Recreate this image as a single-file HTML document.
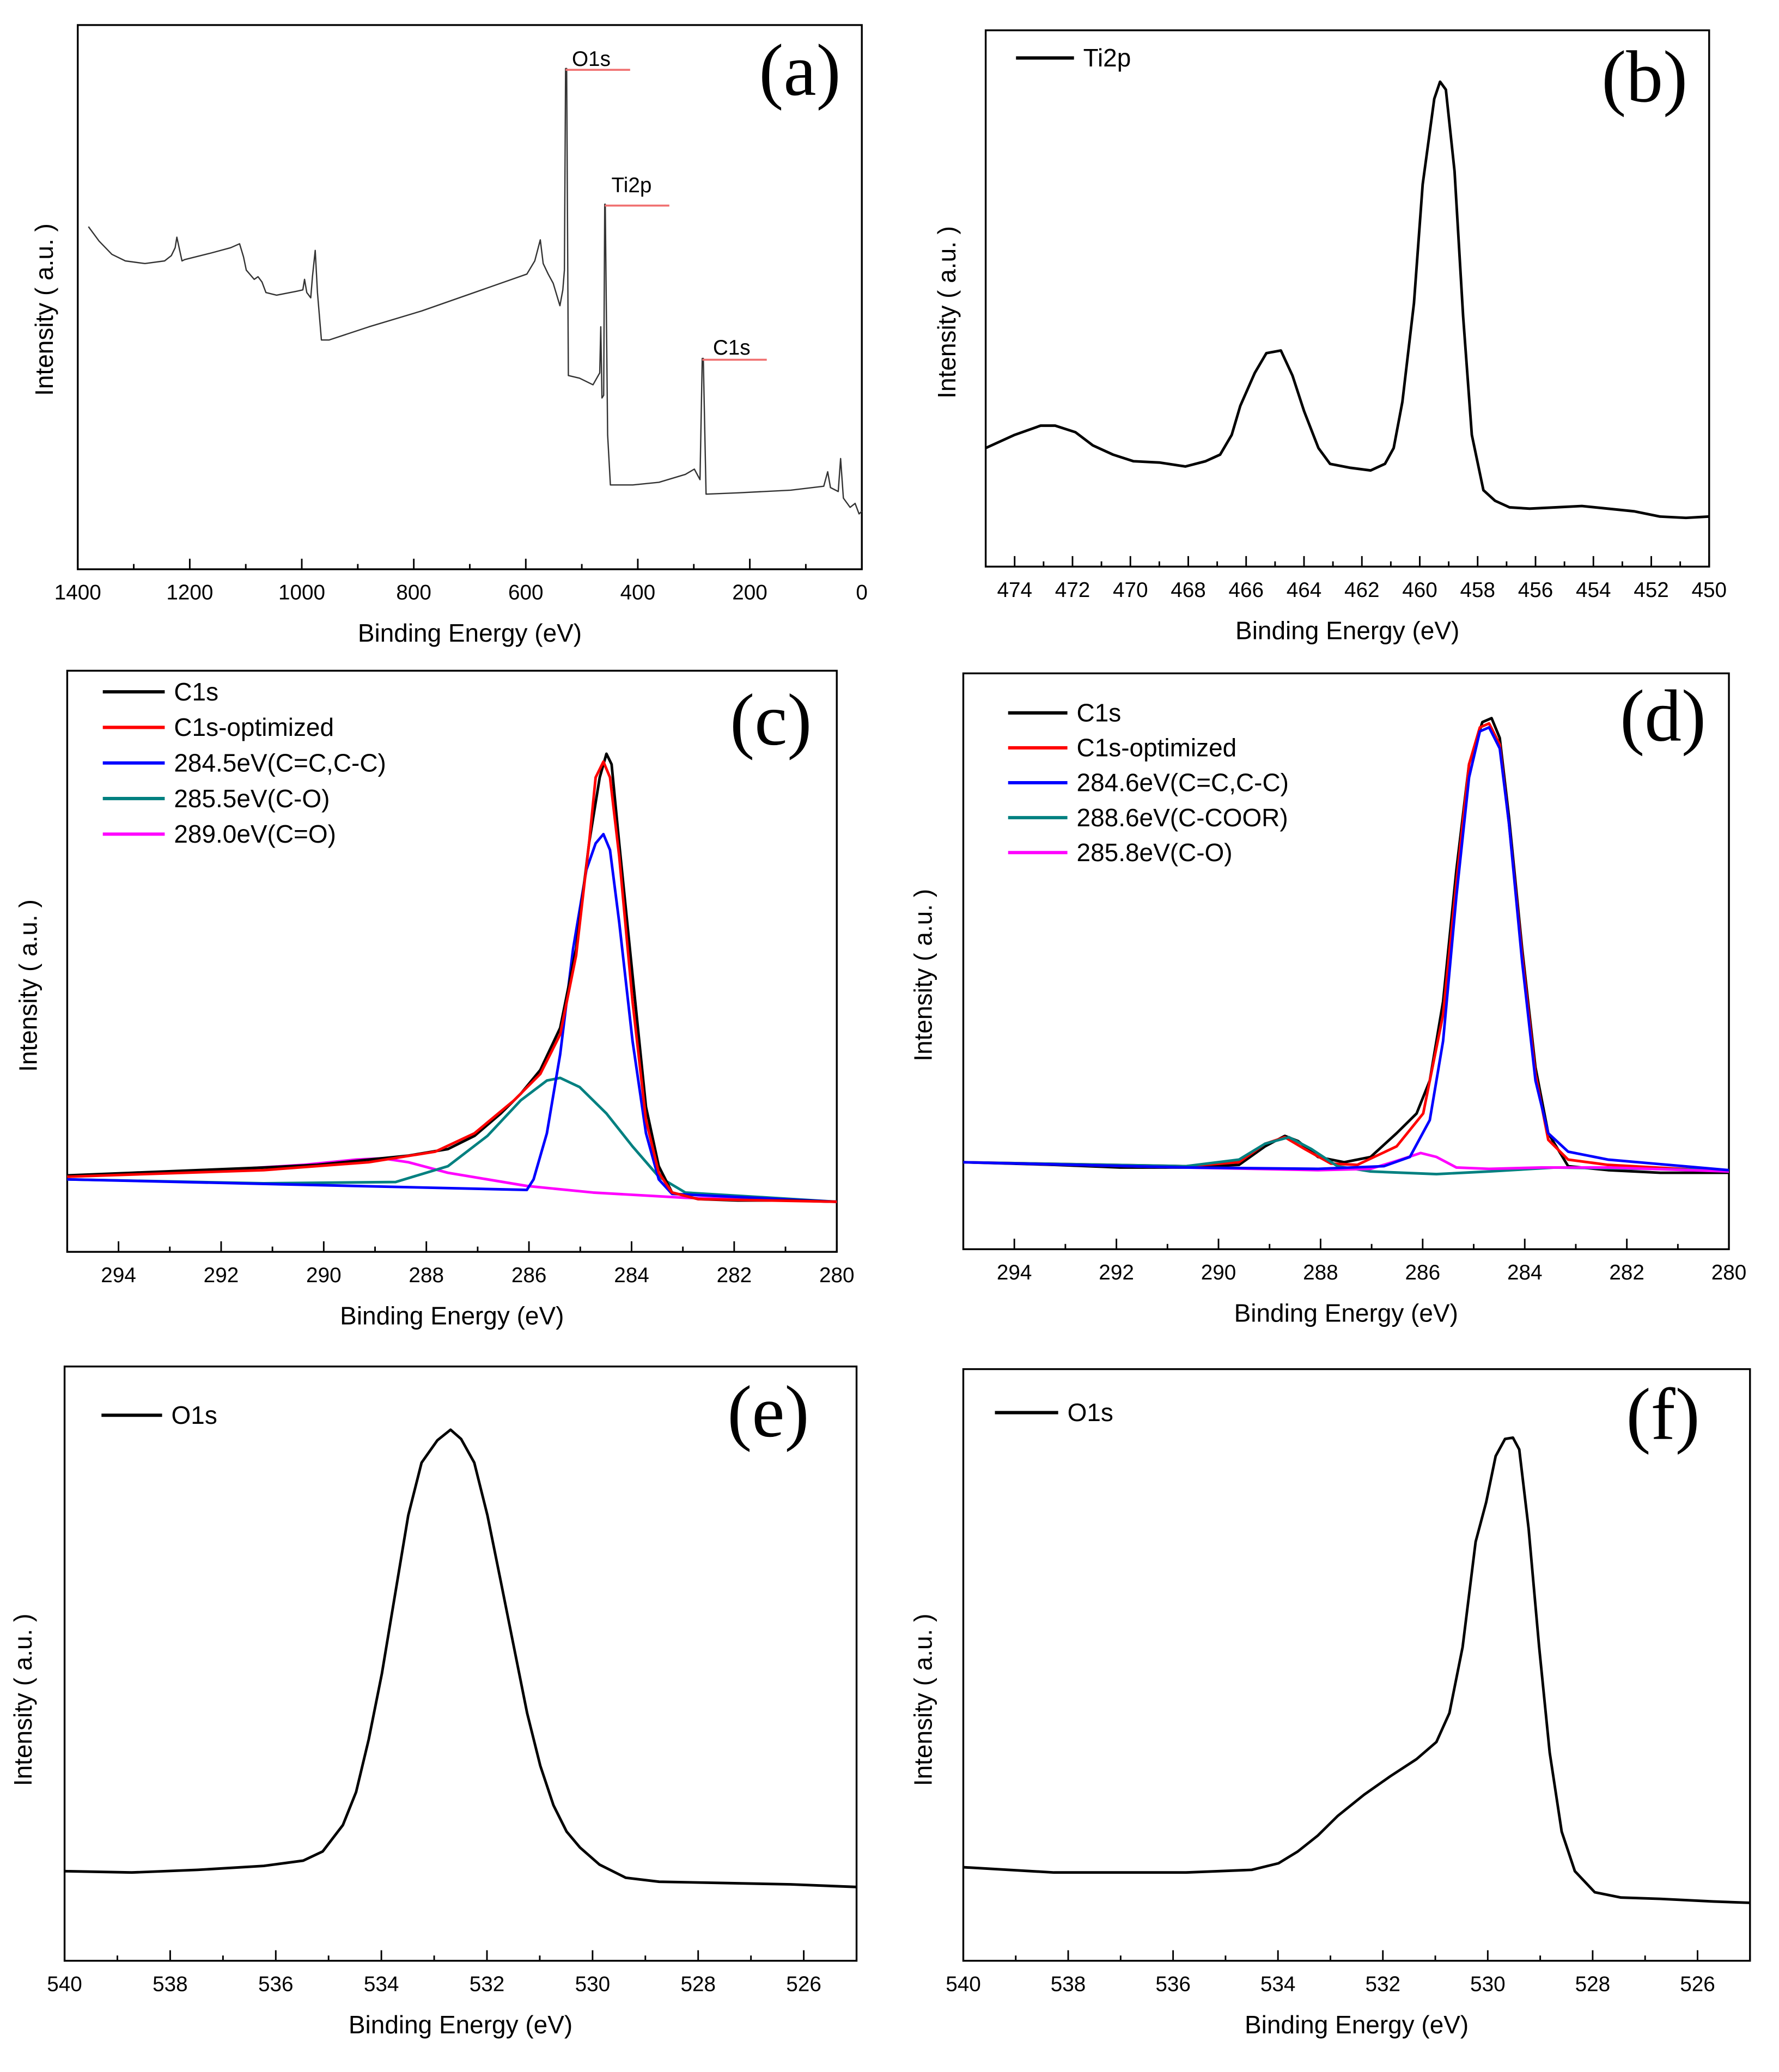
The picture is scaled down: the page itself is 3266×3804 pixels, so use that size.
<!DOCTYPE html>
<html><head><meta charset="utf-8"><style>
html,body{margin:0;padding:0;background:#fff;}
svg{display:block;}
text{font-family:"Liberation Sans",sans-serif;fill:#000;}
</style></head><body>
<svg id="fig" width="3266" height="3804" viewBox="0 0 1350 1572.4" xmlns="http://www.w3.org/2000/svg">
<rect x="0" y="0" width="1350" height="1572.4" fill="#fff"/>
</svg>
<script>
// ---------- data (binding energy eV, intensity a.u.) ----------
const surveyE=[1381,1362,1339,1315,1280,1245,1233,1226,1223,1214,1209,1162,1127,1111,1104,1099,1085,1078,1071,1064,1045,1009,998,995,991,984,981,976,972,965,951,880,786,692,598,584,579,574,569,560,551,539,534,531,529,527,524,504,480,468,466,464,461,459,458,454,449,409,362,315,299,289,285,283,278,221,127,68,61,56,42,38,33,21,12,5,0];
const surveyI=[260,249,239,234,232,234,238,244,252,234,235,240,244,247,237,227,220,222,218,210,208,211,212,220,210,206,222,242,210,174,174,184,196,210,224,234,242,250,232,224,217,200,212,227,380,380,147,145,140,149,184,130,132,277,277,102,64,64,66,72,76,68,160,160,57,58,60,63,74,62,59,84,54,47,50,42,44];
const tiE=[475,474.0,473.1,472.6,471.9,471.3,470.6,469.9,469.0,468.1,467.4,466.9,466.5,466.2,465.7,465.3,464.8,464.4,464.0,463.5,463.1,462.4,461.7,461.2,460.9,460.6,460.2,459.9,459.5,459.3,459.1,458.8,458.5,458.2,457.8,457.4,456.9,456.2,455.3,454.4,453.5,452.6,451.7,450.8,450.0];
const tiI=[90,100,107,107,102,92,85,80,79,76,80,85,100,122,147,162,164,145,118,90,78,75,73,78,90,125,200,290,355,368,362,300,190,100,58,50,45,44,45,46,44,42,38,37,38];
// panel c
const cBlackE=[295,293.74,292.46,291.17,290.15,289.12,288.35,287.58,287.06,286.55,286.16,285.78,285.39,285.08,284.83,284.62,284.49,284.39,284.24,283.98,283.72,283.47,283.21,282.70,281.93,280.90,280.0];
const cBlackI=[58,60,62,64,66,70,73,78,88,105,120,138,170,230,310,360,378,370,310,210,110,65,45,40,39,39,38];
const cFitE=[295,291.17,289.12,287.83,287.06,286.29,285.78,285.39,285.08,284.83,284.70,284.55,284.42,284.24,283.98,283.72,283.47,283.21,282.70,280.0];
const cFitI=[57,62,68,76,90,115,135,165,225,310,360,372,360,300,190,100,60,45,40,38];
const cP1E=[295,286.04,285.91,285.65,285.39,285.14,284.88,284.70,284.55,284.42,284.24,283.98,283.72,283.47,283.21,280.0];
const cP1I=[55,47,55,90,150,230,290,310,317,305,250,160,90,55,44,38];
const cP2E=[295,291.17,288.60,287.58,286.81,286.16,285.65,285.39,285.01,284.49,283.98,283.47,282.95,280.0];
const cP2I=[55,52,53,65,88,115,130,132,125,105,80,57,45,38];
const cP3E=[295,292.46,290.40,289.37,288.86,288.35,287.58,286.04,284.75,282.95,280.0];
const cP3I=[57,61,66,70,71,68,60,50,45,41,38];
// panel d
const dBlackE=[295,293.22,291.93,290.64,289.60,289.09,288.70,288.44,288.05,287.54,287.02,286.51,286.12,285.86,285.60,285.34,285.09,284.83,284.65,284.49,284.31,284.05,283.79,283.54,283.15,282.37,281.34,280.0];
const dBlackI=[66,64,62,62,64,78,86,82,70,66,70,88,103,128,188,288,368,400,403,388,328,228,138,88,63,60,58,58];
const dFitE=[295,290.64,289.60,289.09,288.70,288.31,287.80,287.28,286.51,285.99,285.60,285.34,285.09,284.88,284.70,284.49,284.31,284.05,283.79,283.54,283.15,282.37,280.0];
const dFitI=[66,63,66,80,85,76,65,64,78,103,178,278,368,396,399,383,323,223,133,83,68,64,59];
const dP1E=[295,290.64,288.05,286.76,286.25,285.86,285.60,285.34,285.09,284.88,284.70,284.49,284.31,284.05,283.79,283.54,283.15,282.37,280.0];
const dP1I=[66,62,61,63,70,98,158,268,358,393,396,380,323,218,128,88,74,68,60];
const dP2E=[295,290.64,289.60,289.09,288.62,288.18,287.67,287.02,285.73,284.70,283.41,280.0];
const dP2I=[66,63,68,80,85,76,63,59,57,59,62,60];
const dP3E=[295,290.64,288.05,287.02,286.51,286.04,285.73,285.34,284.70,283.67,282.37,280.0];
const dP3I=[66,62,60,61,67,73,70,62,61,62,62,59];
// panel e, f
const eE=[540,538.73,537.48,536.23,535.48,535.11,534.73,534.48,534.24,533.99,533.74,533.49,533.24,532.94,532.69,532.49,532.24,531.99,531.74,531.49,531.24,530.99,530.74,530.49,530.24,529.87,529.37,528.74,527.50,526.25,525.0];
const eI=[68,67,69,72,76,83,103,128,168,218,278,338,378,395,403,396,378,338,288,238,188,148,118,98,86,73,63,60,59,58,56];
const fE=[540,538.27,535.75,534.50,533.99,533.62,533.24,532.86,532.36,531.86,531.36,530.98,530.73,530.48,530.23,530.03,529.85,529.67,529.52,529.40,529.22,529.02,528.82,528.59,528.34,527.96,527.46,526.71,525.70,525.0];
const fI=[71,67,67,69,74,83,95,110,126,140,153,166,188,238,318,348,383,396,397,388,328,238,158,98,68,52,48,47,45,44];

const NS="http://www.w3.org/2000/svg";
const svg=document.getElementById('fig');
function mk(tag,attrs,parent){const e=document.createElementNS(NS,tag);for(const k in attrs)e.setAttribute(k,attrs[k]);(parent||svg).appendChild(e);return e;}

function panel(p){
  const g=mk('g',{});
  
  
  const sx=v=>p.L+(p.xmax-v)/(p.xmax-p.xmin)*(p.R-p.L);
  const sy=v=>p.B-v/p.ymax*(p.B-p.T);
  const fr=mk('rect',{x:p.L,y:p.T,width:p.R-p.L,height:p.B-p.T,fill:'none',stroke:'#000','stroke-width':1.4},g);
  
  
  for(let v=p.xmin;v<=p.xmax+1e-9;v+=p.minor){
    const major=Math.abs((v-p.tick0)/p.major-Math.round((v-p.tick0)/p.major))<1e-6;
    const x=sx(v);
    if(x<p.L-0.5||x>p.R+0.5)continue;
    const t=mk('line',{x1:x,x2:x,y1:p.B,y2:p.B-(major?8:4),stroke:'#000','stroke-width':1.2},g);
    
    
    if(major){
      const lb=mk('text',{x:x,y:p.B+23,'font-size':16,'text-anchor':'middle'},g);
      lb.textContent=String(Math.round(v));
      
      
    }
  }
  const xt=mk('text',{x:(p.L+p.R)/2,y:p.B+55,'font-size':19,'text-anchor':'middle'},g);
  xt.textContent='Binding Energy (eV)';
  
  
  const yc=p.yt[1];
  const yt=mk('text',{x:p.yt[0],y:yc,'font-size':19,'text-anchor':'middle',transform:`rotate(-90 ${p.yt[0]} ${yc})`},g);
  yt.textContent='Intensity ( a.u. )';
  
  
  const pl=mk('text',{x:p.lab[0],y:p.lab[1]+17,'font-size':56,'text-anchor':'middle',style:'font-family:"Liberation Serif",serif'},g);
  pl.textContent=p.label;
  
  
  p.series.forEach(s=>{
    const d=s.E.map((e,i)=>(i?'L':'M')+sx(e).toFixed(1)+' '+sy(s.I[i]).toFixed(1)).join('');
    const path=mk('path',{d:d,fill:'none',stroke:s.c,'stroke-width':s.w||2,'stroke-linejoin':'round'},g);
    
    
  });
  (p.legend||[]).forEach((l,i)=>{
    const y=p.leg[2]+i*p.leg[3];
    const ln=mk('line',{x1:p.leg[0],x2:p.leg[1],y1:y,y2:y,stroke:l.c,'stroke-width':2.5},g);
    
    
    const tx=mk('text',{x:p.leg[1]+7,y:y+6.5,'font-size':19},g);
    tx.textContent=l.t;
    
    
  });
  return {g,sx,sy};
}

const A=panel({name:'panel-a-survey',L:59,R:654,T:19,B:432,xmin:0,xmax:1400,ymax:413,minor:100,major:200,tick0:0,
  yt:[40,235],lab:[607,55],label:'(a)',series:[{E:surveyE,I:surveyI,c:'#333',w:1,n:'survey-spectrum'}]});
[['O1s',529,380,434,50],['Ti2p',459,277,464,146],['C1s',285,160,541,269]].forEach(a=>{
  const x=A.sx(a[1]),y=A.sy(a[2]);
  const l=mk('line',{x1:x,x2:x+49,y1:y+1,y2:y+1,stroke:'#f07070','stroke-width':1.5},A.g);
  
  
  const t=mk('text',{x:a[3],y:a[4],'font-size':16},A.g);
  t.textContent=a[0];
  
  
});
panel({name:'panel-b-ti2p',L:748,R:1297,T:23,B:430,xmin:450,xmax:475,ymax:407,minor:1,major:2,tick0:450,
  yt:[725,237],lab:[1248,60],label:'(b)',series:[{E:tiE,I:tiI,c:'#000',n:'ti2p-spectrum'}],
  leg:[771,815,44,27],legend:[{c:'#000',t:'Ti2p'}]});
const leg5c=[{c:'#000',t:'C1s'},{c:'#f00',t:'C1s-optimized'},{c:'#00f',t:'284.5eV(C=C,C-C)'},{c:'#008080',t:'285.5eV(C-O)'},{c:'#f0f',t:'289.0eV(C=O)'}];
panel({name:'panel-c-c1s',L:51,R:635,T:509,B:950,xmin:280,xmax:295,ymax:441,minor:1,major:2,tick0:280,
  yt:[28,748],lab:[585,548],label:'(c)',
  series:[{E:cP3E,I:cP3I,c:'#f0f',n:'c1s-289-fit'},{E:cP2E,I:cP2I,c:'#008080',n:'c1s-285-5-fit'},{E:cP1E,I:cP1I,c:'#00f',n:'c1s-284-5-fit'},{E:cBlackE,I:cBlackI,c:'#000',n:'c1s-spectrum'},{E:cFitE,I:cFitI,c:'#f00',n:'c1s-optimized'}],
  leg:[78,125,525,27],legend:leg5c});
const leg5d=[{c:'#000',t:'C1s'},{c:'#f00',t:'C1s-optimized'},{c:'#00f',t:'284.6eV(C=C,C-C)'},{c:'#008080',t:'288.6eV(C-COOR)'},{c:'#f0f',t:'285.8eV(C-O)'}];
panel({name:'panel-d-c1s',L:731,R:1312,T:511,B:948,xmin:280,xmax:295,ymax:437,minor:1,major:2,tick0:280,
  yt:[707,740],lab:[1262,545],label:'(d)',
  series:[{E:dBlackE,I:dBlackI,c:'#000',n:'c1s-spectrum'},{E:dFitE,I:dFitI,c:'#f00',n:'c1s-optimized'},{E:dP2E,I:dP2I,c:'#008080',n:'c1s-288-6-fit'},{E:dP3E,I:dP3I,c:'#f0f',n:'c1s-285-8-fit'},{E:dP1E,I:dP1I,c:'#00f',n:'c1s-284-6-fit'}],
  leg:[765,810,541,26.5],legend:leg5d});
panel({name:'panel-e-o1s',L:49,R:650,T:1037,B:1488,xmin:525,xmax:540,ymax:451,minor:1,major:2,tick0:526,
  yt:[24,1290],lab:[583,1073],label:'(e)',series:[{E:eE,I:eI,c:'#000',n:'o1s-spectrum'}],
  leg:[77,123,1074,27],legend:[{c:'#000',t:'O1s'}]});
panel({name:'panel-f-o1s',L:731,R:1328,T:1039,B:1488,xmin:525,xmax:540,ymax:449,minor:1,major:2,tick0:526,
  yt:[707,1290],lab:[1262,1075],label:'(f)',series:[{E:fE,I:fI,c:'#000',n:'o1s-spectrum'}],
  leg:[755,803,1072,27],legend:[{c:'#000',t:'O1s'}]});
</script>
</body></html>
